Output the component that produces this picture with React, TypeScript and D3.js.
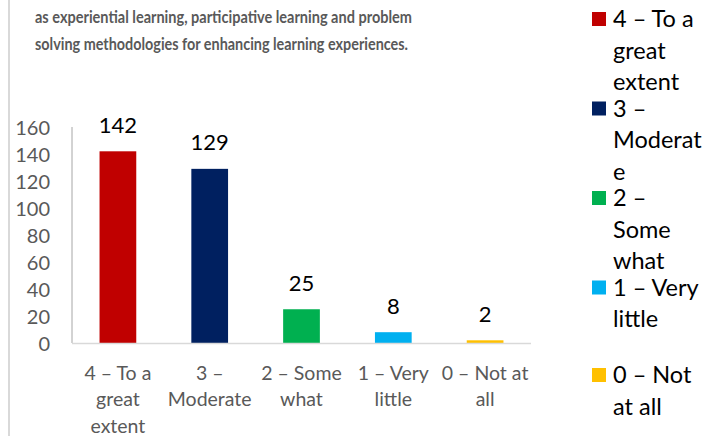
import React from "react";
import * as d3 from "d3";

const categories = ["4 – To a great extent", "3 – Moderate", "2 – Some what", "1 – Very little", "0 – Not at all"];
const values = [142, 129, 25, 8, 2];
const colors = ["#c00000", "#002060", "#00b050", "#00b0f0", "#ffc000"];
const axisLabelLines = [["4 – To a", "great", "extent"], ["3 –", "Moderate"], ["2 – Some", "what"], ["1 – Very", "little"], ["0 – Not at", "all"]];
const legendLines = [["4 – To a", "great", "extent"], ["3 –", "Moderat", "e"], ["2 –", "Some", "what"], ["1 – Very", "little"], ["0 – Not", "at all"]];
const yTicks = [0, 20, 40, 60, 80, 100, 120, 140, 160];
const titleLines = [
  "as experiential learning, participative learning and problem",
  "solving methodologies for enhancing learning experiences.",
];
const titleWidths = [377, 373];

const FONT = "Lato, 'Open Sans', sans-serif";

export default function App() {
  const x = d3.scaleBand<string>().domain(categories).range([72, 531]).paddingInner(0.6).paddingOuter(0.3);
  const y = d3.scaleLinear().domain([0, 160]).range([343, 127]);
  const legendY = [18, 107.5, 197, 286.5, 374];

  return (
    <svg width={725} height={436} style={{ position: "absolute", left: 0, top: 0, background: "#fff" }} fontFamily={FONT}>
      <rect x={0} y={0} width={725} height={436} fill="#fff" />
      <line x1={9} x2={9} y1={0} y2={436} stroke="#d9d9d9" strokeWidth={2} />
      {titleLines.map((t, i) => (
        <text key={i} x={35} y={16 + i * 27} dominantBaseline="central" fontSize={17} fontWeight="bold" fill="#595959" textLength={titleWidths[i]} lengthAdjust="spacingAndGlyphs">
          {t}
        </text>
      ))}
      {yTicks.map((t) => (
        <text key={t} x={50} y={y(t)} textAnchor="end" dominantBaseline="central" fontSize={20} fill="#595959">
          {t}
        </text>
      ))}
      <line x1={72} x2={72} y1={y(160)} y2={y(0)} stroke="#a6a6a6" strokeWidth={1} />
      {categories.map((c, i) => (
        <rect key={c} x={x(c)} y={y(values[i])} width={x.bandwidth()} height={y(0) - y(values[i])} fill={colors[i]} />
      ))}
      <line x1={72} x2={531} y1={y(0) + 0.5} y2={y(0) + 0.5} stroke="#d9d9d9" strokeWidth={1.5} />
      {categories.map((c, i) => (
        <text key={c} x={(x(c) as number) + x.bandwidth() / 2} y={y(values[i]) - 27} textAnchor="middle" dominantBaseline="central" fontSize={22} fill="#000">
          {values[i]}
        </text>
      ))}
      {categories.map((c, i) =>
        axisLabelLines[i].map((l, j) => (
          <text key={c + j} x={(x(c) as number) + x.bandwidth() / 2} y={372 + j * 26.5} textAnchor="middle" dominantBaseline="central" fontSize={19.5} fill="#595959">
            {l}
          </text>
        ))
      )}
      {categories.map((c, i) => (
        <g key={c}>
          <rect x={592} y={legendY[i] - 6} width={14} height={14} fill={colors[i]} />
          {legendLines[i].map((l, j) => (
            <text key={j} x={613} y={legendY[i] + j * 31.5} dominantBaseline="central" fontSize={23.5} fill="#000">
              {l}
            </text>
          ))}
        </g>
      ))}
    </svg>
  );
}
